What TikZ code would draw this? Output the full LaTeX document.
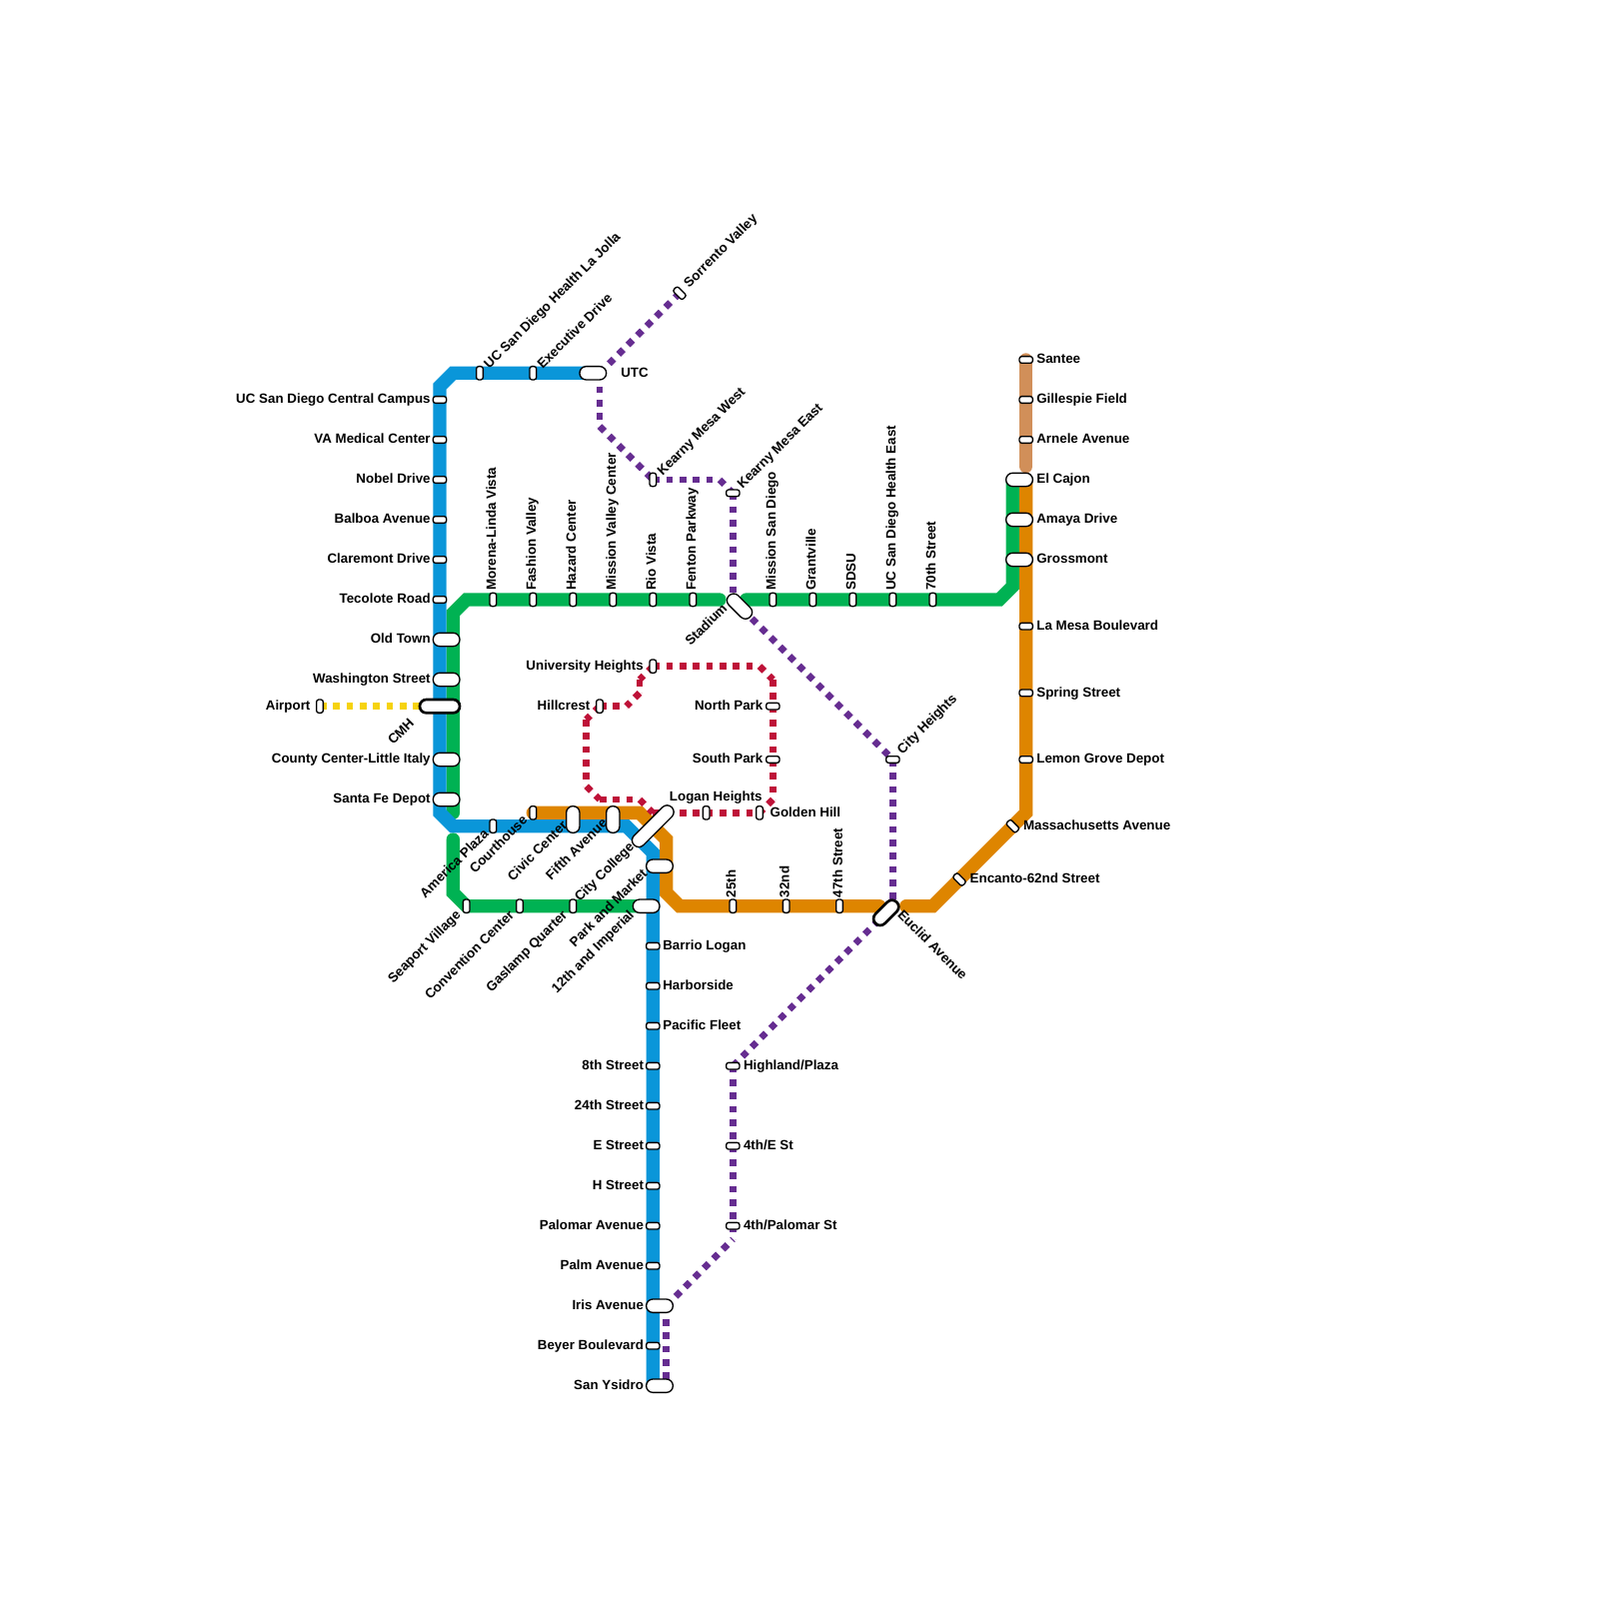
\documentclass[tikz,border=0pt]{standalone}
\usepackage{fontspec}
\setmainfont{Liberation Sans}
\usepackage{xcolor}
\usetikzlibrary{backgrounds}
\definecolor{LineBlue}{HTML}{0A96D9}
\definecolor{LineGreen}{HTML}{00B253}
\definecolor{LineOrange}{HTML}{DE8500}
\definecolor{LineBrown}{HTML}{D18F59}
\definecolor{LinePurple}{HTML}{662D91}
\definecolor{LineRed}{HTML}{BE1238}
\definecolor{LineYellow}{HTML}{F6D30F}
\tikzset{
  solidline/.style={line width=2mm,line cap=round},
  dotline/.style={line width=1mm,dash pattern=on 1mm off 1mm},
  stop/.style={draw=black,fill=white,line width=.2mm,inner sep=0pt,outer sep=0pt,rounded corners=.35mm},
  stoph/.style={stop,minimum width=2mm,minimum height=1mm},
  stopv/.style={stop,minimum width=1mm,minimum height=2mm},
  stopd/.style={stoph,rotate=-45},
  pill/.style={draw=black,fill=white,line width=.2mm,inner sep=0pt,outer sep=0pt,rounded corners=.98mm},
  pillh/.style={pill,minimum width=4mm,minimum height=2mm},
  pillv/.style={pill,minimum width=2mm,minimum height=4mm},
  lbl/.style={inner sep=0pt,outer sep=0pt},
  lblw/.style={lbl,anchor=mid east},
  lble/.style={lbl,anchor=mid west},
  lbln/.style={lbl,anchor=mid west,rotate=90},
  lblne/.style={lbl,anchor=mid west,rotate=45},
  lblsw/.style={lbl,anchor=mid east,rotate=45},
  lblse/.style={lbl,anchor=mid west,rotate=-45}
}
\begin{document}
\begin{tikzpicture}[x=2mm,y=-2mm,font=\fontsize{5.7pt}{6.5pt}\selectfont\bfseries]
  \useasboundingbox (0,0) rectangle (120,120);
  % stops
  \foreach \id/\px/\py in {ucsdc/33/30,vamc/33/33,nobel/33/36,balboa/33/39,claremont/33/42,tecolote/33/45,
      barrio/49/71,harborside/49/74,pacific/49/77,eighth/49/80,twentyfourth/49/83,estreet/49/86,hstreet/49/89,
      palomar/49/92,palm/49/95,beyer/49/101,santee/77/27,gillespie/77/30,arnele/77/33,lamesa/77/47,spring/77/52,
      lemon/77/57,northpark/58/53,southpark/58/57,kme/55/37,cityheights/67/57,highland/55/80,fourthe/55/86,fourthp/55/92}
    \node[stoph] (\id) at (\px,\py) {};
  \foreach \id/\px/\py in {ucsdl/36/28,exec/40/28,morena/37/45,fashion/40/45,hazard/43/45,mvc/46/45,rio/49/45,fenton/52/45,
      msd/58/45,grantville/61/45,sdsu/64/45,ucsde/67/45,seventieth/70/45,kmw/49/36,uni/49/50,hillcrest/45/53,logan/53/61,
      golden/57/61,airport/24/53,america/37/62,courthouse/40/61,seaport/35/68,convention/39/68,gaslamp/43/68,
      twentyfifth/55/68,thirtysecond/59/68,fortyseventh/63/68}
    \node[stopv] (\id) at (\px,\py) {};
  \foreach \id/\px/\py in {massachusetts/76/62,encanto/72/66,sorrento/51/22}
    \node[stopd] (\id) at (\px,\py) {};
  \foreach \id/\px/\py in {utc/44.5/28,oldtown/33.5/48,washington/33.5/51,county/33.5/57,santafe/33.5/60,parkmarket/49.5/65,
      imperial/48.5/68,iris/49.5/98,ysidro/49.5/104,elcajon/76.5/36,amaya/76.5/39,grossmont/76.5/42}
    \node[pillh] (\id) at (\px,\py) {};
  \foreach \id/\px in {civic/43,fifth/46}
    \node[pillv] (\id) at (\px,61.5) {};
  \node[pill,minimum height=2mm,minimum width=6mm,line width=.4mm] (cmh) at (33,53) {};
  \node[pill,minimum width=8mm,minimum height=2mm,rotate=45] (citycollege) at (49,62) {};
  \node[pill,minimum width=4.5mm,minimum height=2mm,rotate=-45] (stadium) at (55.5,45.5) {};
  \node[pill,minimum width=4.5mm,minimum height=2mm,rotate=45,line width=.4mm] (euclid) at (66.5,68.5) {};
  % bends
  \foreach \id/\px/\py in {gn1/76/36,gn2/76/44,gn3/75/45,gn4/56/45,gn5/54/45,gn6/35/45,gn7/34/46,gn8/34/61,
      gs1/34/63,gs2/34/67,gs3/35/68,
      or1/48/61,or2/50/63,or3/50/67,or4/51/68,or5/66/68,or6/68/68,or7/70/68,or8/77/61,or9/77/36,
      br1/77/35,
      bl1/34/28,bl2/33/29,bl3/33/61,bl4/34/62,bl5/47/62,bl6/49/64,bl7/49/104,
      pu1/45/28,pu2/45/29,pu3/45/32,pu4/54/36,pu5/55/45,pu6/67/68,pu7/55/93,pu8/50/98,pu9/50/104,
      rd1/57/50,rd2/58/51,rd3/58/60,rd4/49/61,rd5/48/60,rd6/45/60,rd7/44/59,rd8/44/54,rd9/47/53,rd10/48/52,rd11/48/51,
      ye1/32/53}
    \coordinate (\id) at (\px,\py);
  \begin{scope}[on background layer]
    \draw[solidline,LineGreen] (gn1) -- (gn2) -- (gn3) -- (gn4);
    \draw[solidline,LineGreen] (gn5) -- (gn6) -- (gn7) -- (gn8);
    \draw[solidline,LineGreen] (gs1) -- (gs2) -- (gs3) -- (imperial.center);
    \draw[solidline,LineOrange] (courthouse.center) -- (or1) -- (or2) -- (or3) -- (or4) -- (or5);
    \draw[solidline,LineOrange] (or6) -- (or7) -- (or8) -- (or9);
    \draw[solidline,LineBrown] (santee.center) -- (br1);
    \draw[solidline,LineBlue] (utc.center) -- (bl1) -- (bl2) -- (bl3) -- (bl4) -- (bl5) -- (bl6) -- (bl7);
    \foreach \a/\b in {airport/ye1}
      \draw[dotline,LineYellow] (\a.center) -- (\b.center);
    \foreach \a/\b in {uni/rd1,rd1/rd2,rd2/rd3,rd3/golden,logan/golden,rd4/logan,rd5/rd4,rd6/rd5,rd7/rd6,rd8/rd7,
        hillcrest/rd8,hillcrest/rd9,rd10/rd9,rd11/rd10,uni/rd11}
      \draw[dotline,LineRed] (\a.center) -- (\b.center);
    \foreach \a/\b in {pu1/sorrento,pu2/pu3,pu3/kmw,kmw/pu4,pu4/kme,kme/pu5,pu5/cityheights,cityheights/pu6,
        highland/pu6,highland/pu7,pu8/pu7,pu8/pu9}
      \draw[dotline,LinePurple] (\a.center) -- (\b.center);
  \end{scope}
  % labels
  \foreach \id/\px/\py/\txt in {ucsdc/32.3/30/UC San Diego Central Campus,vamc/32.3/33/VA Medical Center,nobel/32.3/36/Nobel Drive,
      balboa/32.3/39/Balboa Avenue,claremont/32.3/42/Claremont Drive,tecolote/32.3/45/Tecolote Road,oldtown/32.3/48/Old Town,
      washington/32.3/51/Washington Street,county/32.3/57/County Center-Little Italy,santafe/32.3/60/Santa Fe Depot,
      airport/23.28/53/Airport,uni/48.28/50/University Heights,hillcrest/44.28/53/Hillcrest,northpark/57.25/53/North Park,
      southpark/57.25/57/South Park,logan/57.2/59.85/Logan Heights,eighth/48.3/80/8th Street,twentyfourth/48.3/83/24th Street,
      estreet/48.3/86/E Street,hstreet/48.3/89/H Street,palomar/48.3/92/Palomar Avenue,palm/48.3/95/Palm Avenue,
      iris/48.3/98/Iris Avenue,beyer/48.3/101/Beyer Boulevard,ysidro/48.3/104/San Ysidro}
    \node[lblw] (\id-t) at (\px,\py-.17) {\txt};
  \foreach \id/\px/\py/\txt in {santee/77.8/27/Santee,gillespie/77.8/30/Gillespie Field,arnele/77.8/33/Arnele Avenue,
      elcajon/77.8/36/El Cajon,amaya/77.8/39/Amaya Drive,grossmont/77.8/42/Grossmont,lamesa/77.8/47/La Mesa Boulevard,
      spring/77.8/52/Spring Street,lemon/77.8/57/Lemon Grove Depot,massachusetts/76.8/62/Massachusetts Avenue,
      encanto/72.8/66/Encanto-62nd Street,utc/46.6/28/UTC,golden/57.8/61/Golden Hill,barrio/49.75/71/Barrio Logan,
      harborside/49.75/74/Harborside,pacific/49.75/77/Pacific Fleet,highland/55.8/80/{Highland/Plaza},
      fourthe/55.8/86/{4th/E St},fourthp/55.8/92/{4th/Palomar St}}
    \node[lble] (\id-t) at (\px,\py-.17) {\txt};
  \foreach \id/\px/\py/\txt in {morena/37/44.3/Morena-Linda Vista,fashion/40/44.3/Fashion Valley,hazard/43/44.3/Hazard Center,
      mvc/46/44.3/Mission Valley Center,rio/49/44.3/Rio Vista,fenton/52/44.3/Fenton Parkway,msd/58/44.3/Mission San Diego,
      grantville/61/44.3/Grantville,sdsu/64/44.3/SDSU,ucsde/67/44.3/UC San Diego Health East,seventieth/70/44.3/70th Street,
      twentyfifth/55/67.35/25th,thirtysecond/59/67.35/32nd,fortyseventh/63/67.35/47th Street}
    \node[lbln] (\id-t) at (\px-.25,\py) {\txt};
  \foreach \id/\px/\py/\txt in {ucsdl/36.4/27.4/UC San Diego Health La Jolla,exec/40.4/27.4/Executive Drive,
      sorrento/51.4/21.3/Sorrento Valley,kmw/49.4/35.4/Kearny Mesa West,kme/55.4/36.4/Kearny Mesa East,
      cityheights/67.4/56.3/City Heights}
    \node[lblne] (\id-t) at (\px,\py) {\txt};
  \foreach \id/\px/\py/\txt in {america/36.6/62.5/America Plaza,courthouse/39.5/61.5/Courthouse,civic/42.5/61.9/Civic Center,
      fifth/45.5/61.7/Fifth Avenue,seaport/34.5/68.6/Seaport Village,convention/38.5/68.6/Convention Center,
      gaslamp/42.5/68.6/Gaslamp Quarter,parkmarket/48.5/65.5/Park and Market,citycollege/47.5/63.5/City College,
      imperial/47.5/68.6/12th and Imperial,stadium/54.5/45.6/Stadium,cmh/31/54.2/CMH}
    \node[lblsw] (\id-t) at (\px-.2,\py-.2) {\txt};
  \node[lblse] (euclid-t) at (67.65,68.4) {Euclid Avenue};
\end{tikzpicture}
\end{document}
